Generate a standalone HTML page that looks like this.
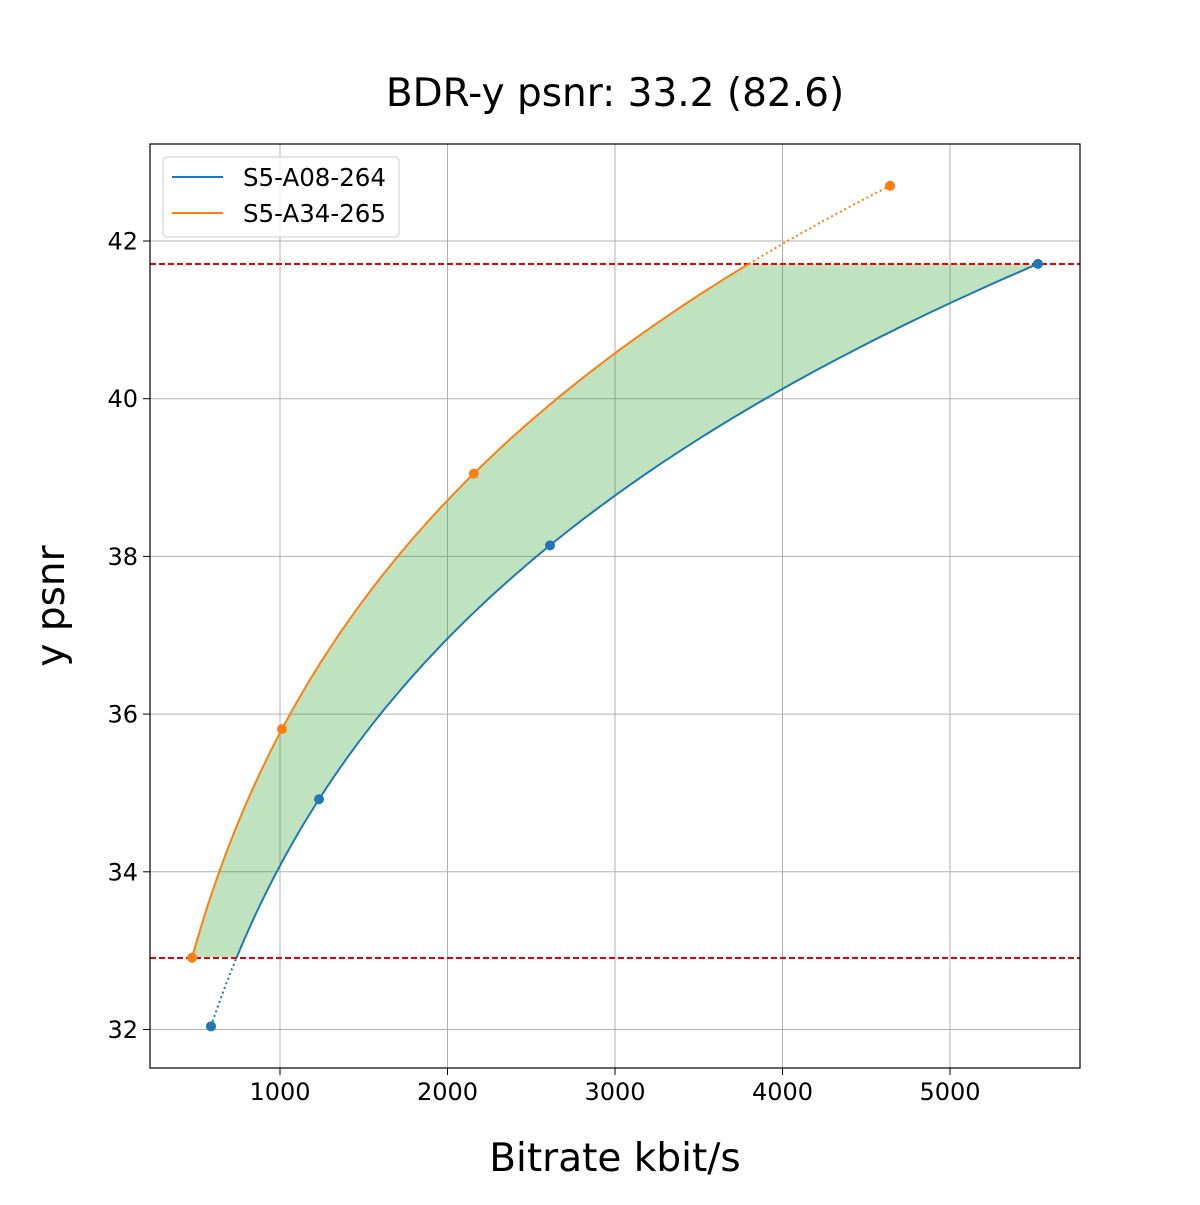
<!DOCTYPE html>
<html><head><meta charset="utf-8"><style>
body{margin:0;background:#fff}
svg text{font-family:"DejaVu Sans","Liberation Sans",sans-serif;fill:#000}
</style></head><body>
<svg id="s" width="1200" height="1200" xmlns="http://www.w3.org/2000/svg">
<rect width="1200" height="1200" fill="#fff"/>
<g id="grid" stroke="#b0b0b0" stroke-width="1"></g>
<path id="fill" fill="#2ca02c" fill-opacity="0.3" stroke="none"/>
<line x1="150" x2="1080" y1="264" y2="264" stroke="#e00" stroke-width="2" stroke-dasharray="6,3"/>
<line x1="150" x2="1080" y1="958" y2="958" stroke="#e00" stroke-width="2" stroke-dasharray="6,3"/>
<path id="bd" fill="none" stroke="#1f77b4" stroke-width="2" stroke-dasharray="2,3"/>
<path id="bs" fill="none" stroke="#1f77b4" stroke-width="2"/>
<path id="od" fill="none" stroke="#ff7f0e" stroke-width="2" stroke-dasharray="2,3"/>
<path id="os" fill="none" stroke="#ff7f0e" stroke-width="2"/>
<g id="pts"></g>
<rect x="150" y="144" width="930" height="924" fill="none" stroke="#000" stroke-width="1.2"/>
<g id="ticks"></g>
<text x="615" y="106" font-size="39" text-anchor="middle">BDR-y psnr: 33.2 (82.6)</text>
<text x="615" y="1171" font-size="39" text-anchor="middle">Bitrate kbit/s</text>
<text transform="translate(64,606) rotate(-90)" font-size="39" text-anchor="middle">y psnr</text>
<rect x="163" y="157" width="236" height="80" rx="4" fill="#fff" fill-opacity="0.8" stroke="#ccc"/>
<line x1="172" x2="223" y1="177" y2="177" stroke="#1f77b4" stroke-width="2"/>
<line x1="172" x2="223" y1="213" y2="213" stroke="#ff7f0e" stroke-width="2"/>
<text x="243" y="186" font-size="24.5">S5-A08-264</text>
<text x="243" y="222" font-size="24.5">S5-A34-265</text>
</svg>
<script>
var X=function(r){return 112.5+r*0.1675},Y=function(p){return 241+(42-p)*78.85};
var g=document.getElementById('grid'),t=document.getElementById('ticks'),h='',k='';
[1000,2000,3000,4000,5000].forEach(function(r){var x=X(r);h+='<line x1="'+x+'" x2="'+x+'" y1="144" y2="1068"/>';k+='<line x1="'+x+'" x2="'+x+'" y1="1068" y2="1075" stroke="#000"/><text x="'+x+'" y="1100" font-size="24" text-anchor="middle">'+r+'</text>';});
[32,34,36,38,40,42].forEach(function(p){var y=Y(p);h+='<line x1="150" x2="1080" y1="'+y+'" y2="'+y+'"/>';k+='<line x1="143" x2="150" y1="'+y+'" y2="'+y+'" stroke="#000"/><text x="138" y="'+(y+8.5)+'" font-size="24" text-anchor="end">'+p+'</text>';});
g.innerHTML=h;t.innerHTML=k;
var B={r:[588,1233,2612,5525],p:[32.04,34.92,38.14,41.71]},O={r:[475,1012,2157,4642],p:[32.91,35.81,39.05,42.70]};
function lag(d,p){var s=0;for(var i=0;i<4;i++){var l=Math.log(d.r[i]);for(var j=0;j<4;j++)if(j!=i)l*=(p-d.p[j])/(d.p[i]-d.p[j]);s+=l;}return Math.exp(s);}
function pts(d,a,b){var o=[];for(var i=0;i<=200;i++){var p=a+(b-a)*i/200;o.push([X(lag(d,p)),Y(p)]);}return o;}
function P(a){return 'M'+a.map(function(q){return q[0].toFixed(1)+','+q[1].toFixed(1)}).join('L');}
var lo=32.91,hi=41.71;
document.getElementById('bd').setAttribute('d',P(pts(B,32.04,lo)));
document.getElementById('bs').setAttribute('d',P(pts(B,lo,41.71)));
document.getElementById('os').setAttribute('d',P(pts(O,32.91,hi)));
document.getElementById('od').setAttribute('d',P(pts(O,hi,42.70)));
var f=pts(O,lo,hi).concat(pts(B,lo,hi).reverse());
document.getElementById('fill').setAttribute('d',P(f)+'Z');
var s='';for(var i=0;i<4;i++){s+='<circle cx="'+X(B.r[i])+'" cy="'+Y(B.p[i])+'" r="5" fill="#1f77b4"/>';s+='<circle cx="'+X(O.r[i])+'" cy="'+Y(O.p[i])+'" r="5" fill="#ff7f0e"/>';}
document.getElementById('pts').innerHTML=s;
</script>
</body></html>
